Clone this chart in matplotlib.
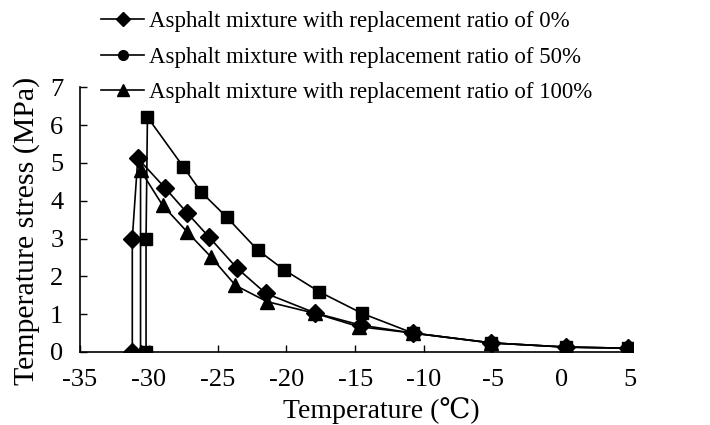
import matplotlib
matplotlib.use("Agg")
import matplotlib.pyplot as plt
from matplotlib.lines import Line2D

plt.rcParams['font.family'] = ['Liberation Serif', 'DejaVu Serif']

# series data
t_0 = [-31.2, -31.2, -30.8, -28.8, -27.2, -25.6, -23.6, -21.5, -17.9, -14.6, -10.8, -5.1, 0.3, 4.8]
s_0 = [0.0, 3.0, 5.12, 4.33, 3.67, 3.03, 2.22, 1.55, 1.03, 0.71, 0.5, 0.24, 0.13, 0.1]

t_50 = [-30.2, -30.2, -30.1, -27.5, -26.2, -24.35, -22.1, -20.2, -17.6, -14.5, -10.8, -5.1, 0.3, 4.8]
s_50 = [0.0, 3.0, 6.21, 4.9, 4.23, 3.57, 2.70, 2.18, 1.59, 1.02, 0.5, 0.24, 0.13, 0.1]

t_100 = [-30.6, -30.6, -29.0, -27.2, -25.5, -23.7, -21.4, -17.9, -14.75, -10.8, -5.1, 0.3, 4.8]
s_100 = [0.0, 4.8, 3.88, 3.17, 2.52, 1.76, 1.33, 1.02, 0.67, 0.5, 0.24, 0.13, 0.1]

labels = ["Asphalt mixture with replacement ratio of 0%",
          "Asphalt mixture with replacement ratio of 50%",
          "Asphalt mixture with replacement ratio of 100%"]
xticks = [-35, -30, -25, -20, -15, -10, -5, 0, 5]
yticks = [0, 1, 2, 3, 4, 5, 6, 7]

fig = plt.figure(figsize=(7.1, 4.25), dpi=100)
ax = fig.add_axes([0.1127, 0.1718, 0.779, 0.623])

ax.plot(t_0, s_0, color='black', lw=1.2, marker='D', ms=9)
ax.plot(t_50, s_50, color='black', lw=1.2, marker='s', ms=9)
ax.plot(t_100, s_100, color='black', lw=1.2, marker='^', ms=10)

ax.set_xlim(-35, 5.2)
ax.set_ylim(0, 7)
ax.set_xticks(xticks)
ax.set_yticks(yticks)
ax.set_xticklabels([str(v) for v in xticks])
ax.tick_params(direction='in', labelsize=19, width=1, length=5, colors='black')
ax.tick_params(axis='x', pad=12)
ax.tick_params(axis='y', pad=12)
ax.spines['top'].set_visible(False)
ax.spines['right'].set_visible(False)
for s in ['left', 'bottom']:
    ax.spines[s].set_linewidth(1.2)

ax.set_xlabel("Temperature (℃)", fontsize=20, labelpad=5, x=0.544)
ax.set_ylabel("Temperature stress (MPa)", fontsize=21.5, labelpad=7, y=0.457)

handles = [Line2D([], [], color='black', lw=1.2, marker='D', ms=7),
           Line2D([], [], color='black', lw=1.2, marker='o', ms=7),
           Line2D([], [], color='black', lw=1.2, marker='^', ms=8)]
fig.legend(handles, labels, loc='upper left', bbox_to_anchor=(0.129, 0.995),
           frameon=False, fontsize=16.5, handlelength=1.9, handletextpad=0.2,
           labelspacing=0.62, borderaxespad=0)

fig.savefig("out.png", dpi=100)
